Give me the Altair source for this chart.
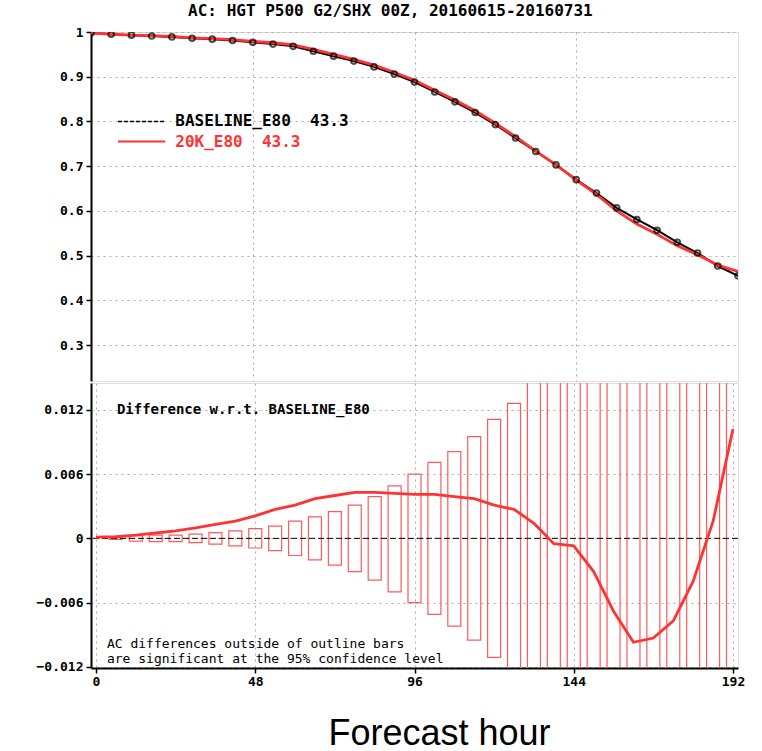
import altair as alt
import pandas as pd

# ---------------- data ----------------
hours = [0, 6, 12, 18, 24, 30, 36, 42, 48, 54, 60, 66, 72, 78, 84, 90, 96,
         102, 108, 114, 120, 126, 132, 138, 144, 150, 156, 162, 168, 174, 180, 186, 192]

ac_baseline = [0.998, 0.995, 0.993, 0.991, 0.989, 0.986, 0.984, 0.981, 0.977, 0.973,
               0.968, 0.957, 0.946, 0.935, 0.922, 0.906, 0.888, 0.866, 0.844, 0.820,
               0.793, 0.763, 0.733, 0.703, 0.670, 0.640, 0.607, 0.581, 0.557, 0.530,
               0.506, 0.477, 0.455]

ac_20k = [0.998, 0.995, 0.993, 0.992, 0.990, 0.987, 0.985, 0.983, 0.979, 0.976,
          0.971, 0.961, 0.950, 0.939, 0.926, 0.910, 0.892, 0.870, 0.848, 0.824,
          0.796, 0.766, 0.734, 0.703, 0.669, 0.637, 0.600, 0.571, 0.548, 0.522,
          0.502, 0.479, 0.465]

diff = [0.00012, 0.00015, 0.0003, 0.0005, 0.0007, 0.00097, 0.0013, 0.0016, 0.0021, 0.0027,
        0.0031, 0.0037, 0.0040, 0.0043, 0.0043, 0.0042, 0.0041, 0.0041, 0.0039, 0.0037,
        0.0031, 0.0027, 0.0014, -0.0005, -0.0007, -0.0031, -0.0068, -0.0097, -0.0093, -0.0077,
        -0.0040, 0.0016, 0.0102]

bar_hours = [6, 12, 18, 24, 30, 36, 42, 48, 54, 60, 66, 72, 78, 84, 90, 96,
             102, 108, 114, 120, 126, 132, 138, 144, 150, 156, 162, 168, 174, 180, 186, 192]
bar_upper = [0.0001, 0.00025, 0.0003, 0.0003, 0.0004, 0.00053, 0.0007, 0.0009, 0.00115, 0.0016,
             0.0020, 0.0025, 0.0031, 0.0039, 0.0049, 0.0060, 0.0071, 0.0081, 0.0095, 0.0111,
             0.0126, 0.0148, 0.0165, 0.0180, 0.0195, 0.0210, 0.0225, 0.0240, 0.0255, 0.0270,
             0.0285, 0.0300]
bar_lower = [-0.0001, -0.00025, -0.0003, -0.0003, -0.0004, -0.00053, -0.0007, -0.0009, -0.00115, -0.0016,
             -0.0020, -0.0025, -0.0031, -0.0039, -0.0050, -0.0060, -0.0071, -0.0082, -0.0095, -0.0111,
             -0.0126, -0.0148, -0.0165, -0.0180, -0.0195, -0.0210, -0.0225, -0.0240, -0.0255, -0.0270,
             -0.0285, -0.0300]

x_ticks = [0, 48, 96, 144, 192]
top_y_ticks = [0.3, 0.4, 0.5, 0.6, 0.7, 0.8, 0.9, 1.0]
bot_y_ticks = [-0.012, -0.006, 0, 0.006, 0.012]

title_text = "AC: HGT P500 G2/SHX 00Z, 20160615-20160731"
legend_names = ["BASELINE_E80\u00a0\u00a043.3", "20K_E80\u00a0\u00a043.3"]
legend_colors = ["#000000", "#ff3333"]
legend_y = [0.800, 0.755]
diff_label = "Difference w.r.t. BASELINE_E80"
note_lines = ["AC differences outside of outline bars",
              "are significant at the 95% confidence level"]
note_y = [-0.0099, -0.01125]
zero_level = [0]

# ---------------- tables ----------------
ac_df = pd.DataFrame({"hour": hours, "base": ac_baseline, "exp": ac_20k})
diff_df = pd.DataFrame({"hour": hours, "diff": diff})
bar_df = pd.DataFrame({"hour": bar_hours, "hi": bar_upper, "lo": bar_lower})
leg_df = pd.DataFrame({"name": legend_names, "color": legend_colors, "y": legend_y,
                       "x0": [8, 8], "x1": [22, 22], "xt": [25, 25],
                       "dash": ["d", "s"]})
note_df = pd.DataFrame({"t": note_lines, "y": note_y, "x": [3.3, 3.3]})
zero_df = pd.DataFrame({"z": zero_level})

MONO = "DejaVu Sans Mono"
RED = "#ff3333"
BARRED = "#ff5a5a"
W = 647

xscale = alt.Scale(domain=[0, 192], nice=False, zero=False)
top_yscale = alt.Scale(domain=[0.22, 1.0], nice=False, zero=False)
bot_yscale = alt.Scale(domain=[-0.0121, 0.0145], nice=False, zero=False)

grid_kw = dict(grid=True, gridColor="#aaaaaa", gridDash=[2, 4], gridWidth=1)

x_top = alt.X("hour:Q", scale=xscale,
              axis=alt.Axis(values=[48, 96, 144], labels=False, ticks=False, domain=False,
                            title=None, **grid_kw))
y_top_axis = alt.Axis(values=top_y_ticks, title=None, domain=True, domainColor="black",
                      domainWidth=2, tickColor="black",
                      tickSize=5, tickWidth=1.5, labelFont=MONO, labelFontSize=13,
                      labelFontWeight="bold", labelColor="black", labelPadding=3,
                      labelExpr="datum.value == 1 ? '1' : format(datum.value, '.1f')",
                      **grid_kw)

base_line = alt.Chart(ac_df).mark_line(color="black", strokeWidth=2, clip=True).encode(
    x=x_top, y=alt.Y("base:Q", scale=top_yscale, axis=y_top_axis))
base_pts = alt.Chart(ac_df).mark_point(shape="circle", filled=False, color="black",
                                       size=32, strokeWidth=2, clip=True).encode(
    x=alt.X("hour:Q", scale=xscale), y=alt.Y("base:Q", scale=top_yscale))
exp_line = alt.Chart(ac_df).mark_line(color=RED, strokeWidth=2.8, clip=True).encode(
    x=alt.X("hour:Q", scale=xscale), y=alt.Y("exp:Q", scale=top_yscale))

leg_black = alt.Chart(leg_df[leg_df.dash == "d"]).mark_rule(
    color="black", strokeWidth=1.5, strokeDash=[4, 2]).encode(
    x=alt.X("x0:Q", scale=xscale), x2="x1:Q", y=alt.Y("y:Q", scale=top_yscale))
leg_red = alt.Chart(leg_df[leg_df.dash == "s"]).mark_rule(
    color=RED, strokeWidth=2).encode(
    x=alt.X("x0:Q", scale=xscale), x2="x1:Q", y=alt.Y("y:Q", scale=top_yscale))
leg_text = alt.Chart(leg_df).mark_text(align="left", baseline="middle", font=MONO,
                                        fontSize=16, fontWeight="bold").encode(
    x=alt.X("xt:Q", scale=xscale), y=alt.Y("y:Q", scale=top_yscale),
    text="name:N", color=alt.Color("color:N", scale=None))

top = alt.layer(base_line, exp_line, base_pts, leg_black, leg_red, leg_text).properties(
    width=W, height=349)

# ---------------- bottom panel ----------------
x_bot = alt.X("hour:Q", scale=xscale,
              axis=alt.Axis(values=x_ticks, title="Forecast hour", domain=True,
                            domainColor="black", domainWidth=2,
                            tickColor="black", tickSize=5, tickWidth=1.5,
                            labelFont=MONO, labelFontSize=13, labelFontWeight="bold",
                            labelColor="black", labelPadding=2,
                            titleFont="Liberation Sans", titleFontSize=36,
                            titleFontWeight="normal", titleColor="black",
                            titleX=348, titleY=76, titleAlign="center",
                            titleBaseline="alphabetic",
                            **grid_kw))
y_bot_axis = alt.Axis(values=bot_y_ticks, title=None, domain=True, domainColor="black",
                      domainWidth=2, tickColor="black",
                      tickSize=5, tickWidth=1.5, labelFont=MONO, labelFontSize=13,
                      labelFontWeight="bold", labelColor="black", labelPadding=3,
                      labelExpr="datum.value == 0 ? '0' : format(datum.value, '.3f')",
                      **grid_kw)

bars = alt.Chart(bar_df).mark_bar(size=13, fill="white", fillOpacity=0, stroke=BARRED,
                                  strokeWidth=1.2, clip=True).encode(
    x=x_bot, y=alt.Y("hi:Q", scale=bot_yscale, axis=y_bot_axis), y2="lo:Q")
zero = alt.Chart(zero_df).mark_rule(color="black", strokeWidth=1, strokeDash=[6, 3]).encode(
    y=alt.Y("z:Q", scale=bot_yscale))
diff_line = alt.Chart(diff_df).mark_line(color=RED, strokeWidth=2.8, clip=True).encode(
    x=alt.X("hour:Q", scale=xscale), y=alt.Y("diff:Q", scale=bot_yscale))
diff_txt = alt.Chart(pd.DataFrame({"t": [diff_label], "x": [6.3], "y": [0.012]})).mark_text(
    align="left", baseline="middle", font=MONO, fontSize=14, fontWeight="bold",
    color="black").encode(x=alt.X("x:Q", scale=xscale), y=alt.Y("y:Q", scale=bot_yscale),
                          text="t:N")
notes = alt.Chart(note_df).mark_text(align="left", baseline="middle", font=MONO,
                                     fontSize=13, color="black").encode(
    x=alt.X("x:Q", scale=xscale), y=alt.Y("y:Q", scale=bot_yscale), text="t:N")

bottom = alt.layer(bars, zero, diff_line, diff_txt, notes).properties(width=W, height=285)

chart = alt.vconcat(top, bottom, spacing=0).properties(
    title=alt.TitleParams(title_text, font=MONO, fontSize=16, fontWeight="bold",
                          anchor="middle", color="black", offset=7),
    padding={"left": 35, "top": 2, "right": 5, "bottom": -1},
).configure_view(stroke="black", strokeWidth=2.5).configure(background="white")

chart.save("out.html", embed_options={"renderer": "svg", "actions": False})
